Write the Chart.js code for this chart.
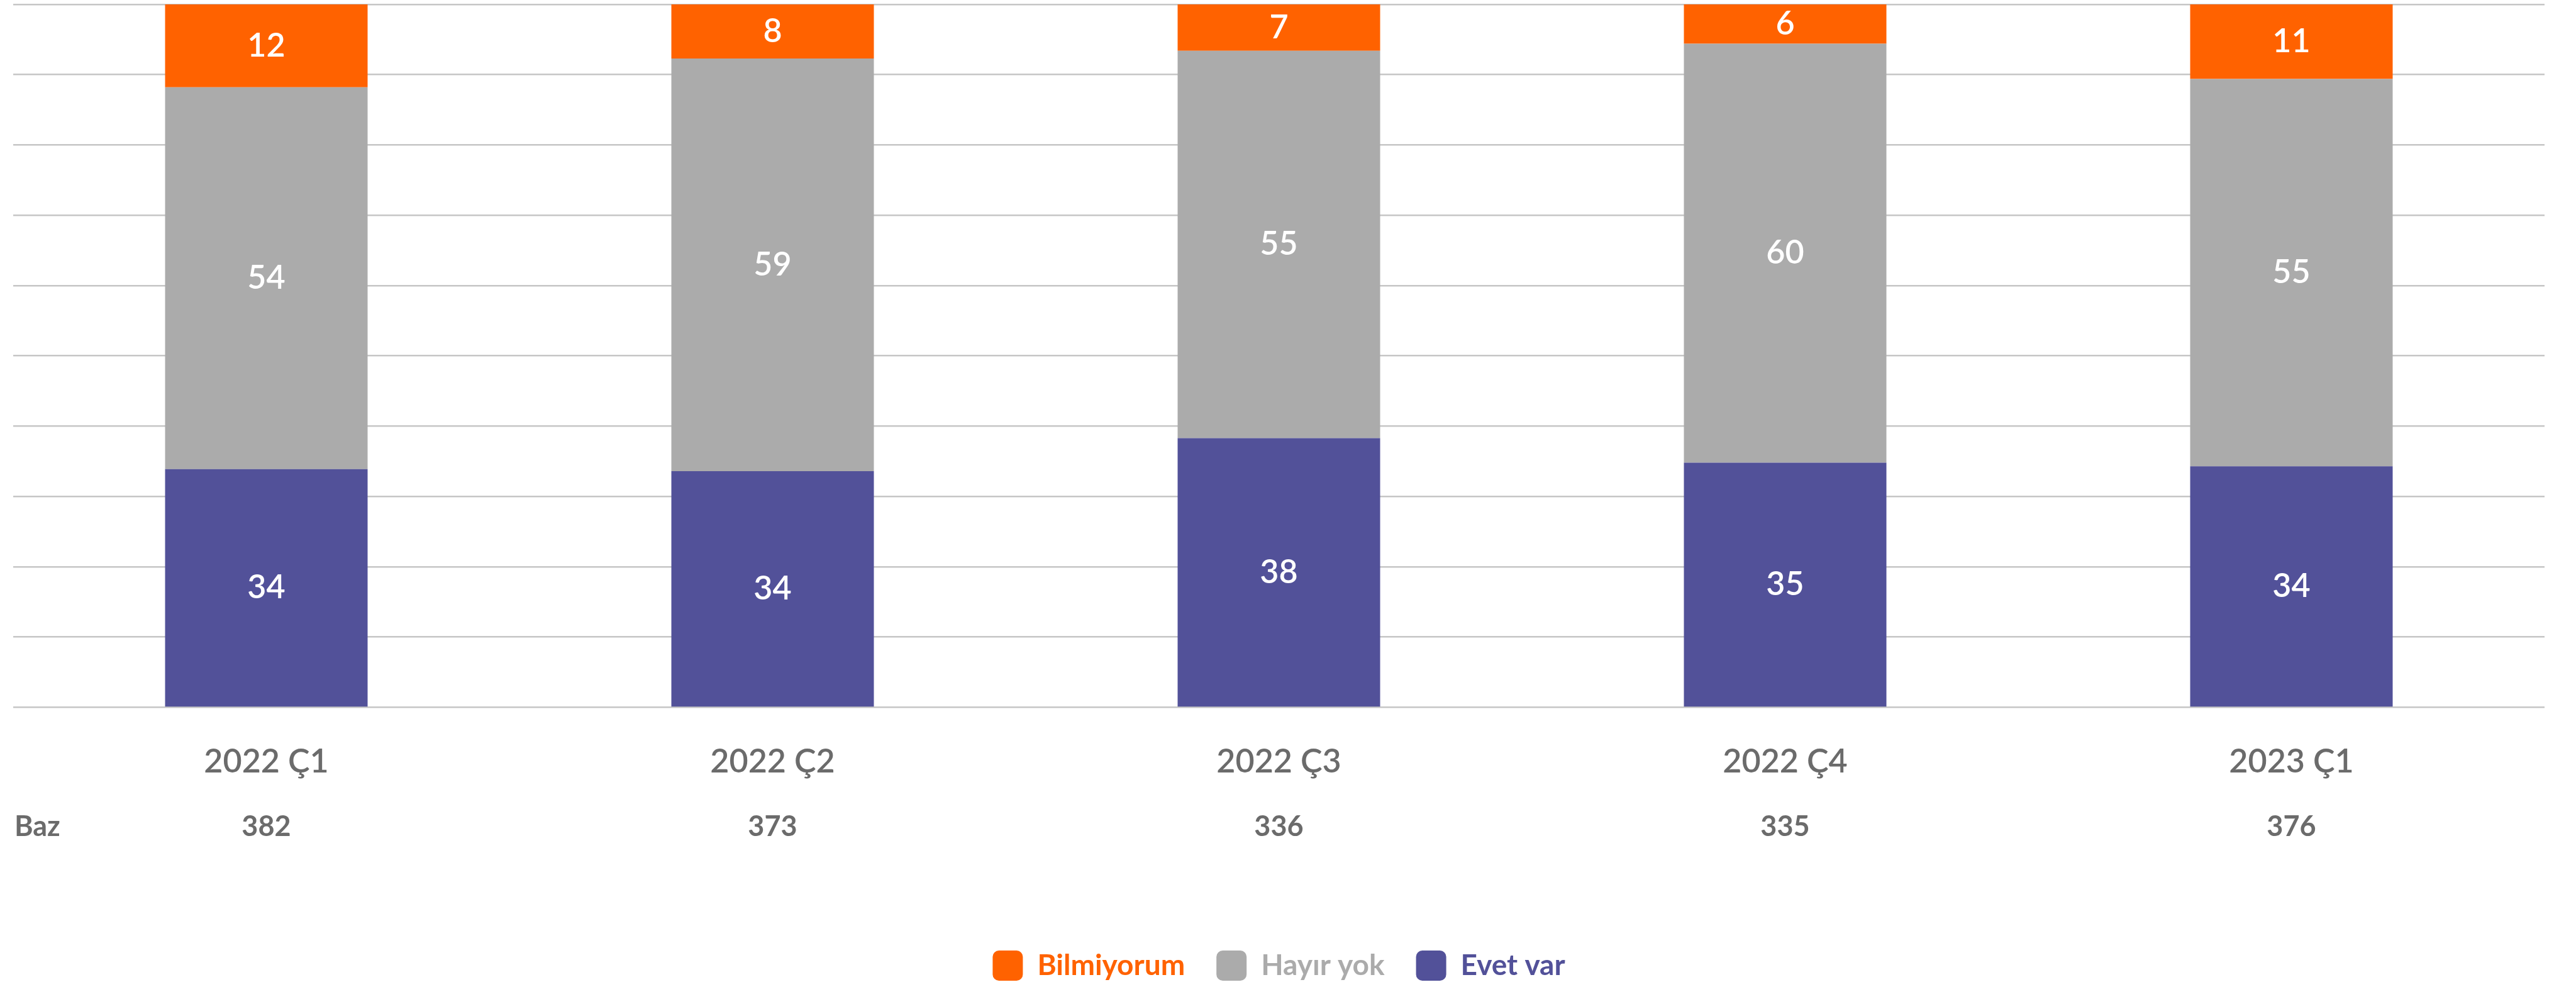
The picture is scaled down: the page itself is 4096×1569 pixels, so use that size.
<!DOCTYPE html>
<html>
<head>
<meta charset="utf-8">
<script src="https://cdn.jsdelivr.net/npm/chart.js@4.4.1/dist/chart.umd.min.js"></script>
<style>
  html, body { margin: 0; padding: 0; background: #ffffff; }
  #wrap { width: 4096px; height: 1569px; }
</style>
</head>
<body>
<div id="wrap"><canvas id="c" width="4096" height="1569"></canvas></div>
<script>
// ---- data ----
const categories = ["2022 Ç1", "2022 Ç2", "2022 Ç3", "2022 Ç4", "2023 Ç1"];
const bazValues = ["382", "373", "336", "335", "376"];
const evetVar = [33.9, 33.6, 38.3, 34.8, 34.3];
const hayirYok = [54.3, 58.7, 55.1, 59.6, 55.1];
const bilmiyorum = [11.8, 7.7, 6.6, 5.6, 10.6];
const seriesNames = ["Evet var", "Hayır yok", "Bilmiyorum"];
const bazLabel = "Baz";

// ---- style ----
const S = 0.896;
const FONT = "Lato, 'Open Sans', 'DejaVu Sans', sans-serif";
const C_ORANGE = "#FF6200";
const C_GRAY = "#ABABAB";
const C_BLUE = "#525199";
const C_TEXT = "#6B6B6B";
const BAZ_SIZE = Math.round(50 * S);
const BAZ_PAD = 27;

const barLabels = {
  id: "barLabels",
  afterDatasetsDraw(chart) {
    const ctx = chart.ctx;
    ctx.save();
    ctx.font = "600 " + Math.round(58 * S) + "px " + FONT;
    ctx.fillStyle = "#ffffff";
    ctx.textAlign = "center";
    ctx.textBaseline = "middle";
    chart.data.datasets.forEach((ds, di) => {
      const meta = chart.getDatasetMeta(di);
      meta.data.forEach((bar, i) => {
        const v = ds.data[i];
        const yTop = Math.max(bar.y, chart.chartArea.top);
        const cy = (yTop + bar.base) / 2;
        ctx.fillText(String(Math.round(v)), bar.x, cy);
      });
    });
    ctx.restore();
  }
};

const bazTitle = {
  id: "bazTitle",
  afterDraw(chart) {
    const x2 = chart.scales.x2;
    const ctx = chart.ctx;
    ctx.save();
    ctx.font = "bold " + BAZ_SIZE + "px " + FONT;
    ctx.fillStyle = C_TEXT;
    ctx.textAlign = "left";
    ctx.textBaseline = "middle";
    const y = x2.top + BAZ_PAD + BAZ_SIZE / 2;
    ctx.fillText(bazLabel, 23, y);
    ctx.restore();
  }
};

new Chart(document.getElementById("c"), {
  type: "bar",
  data: {
    labels: categories,
    datasets: [
      { label: seriesNames[0], data: evetVar, backgroundColor: C_BLUE, borderWidth: 0 },
      { label: seriesNames[1], data: hayirYok, backgroundColor: C_GRAY, borderWidth: 0 },
      { label: seriesNames[2], data: bilmiyorum, backgroundColor: C_ORANGE, borderWidth: 0 }
    ]
  },
  options: {
    responsive: false,
    devicePixelRatio: 1,
    animation: false,
    layout: { padding: { left: 21, right: 50, top: 7, bottom: 0 } },
    datasets: { bar: { categoryPercentage: 1.0, barPercentage: 0.4 } },
    scales: {
      x: {
        stacked: true,
        position: "bottom",
        weight: 0,
        grid: { display: false, drawTicks: false },
        border: { display: false },
        ticks: {
          color: C_TEXT,
          padding: 61,
          maxRotation: 0,
          autoSkip: false,
          font: { family: FONT, size: Math.round(58 * S), weight: "600", lineHeight: 1 }
        },
        afterFit(scale) { scale.height = 140; }
      },
      x2: {
        type: "category",
        labels: bazValues,
        position: "bottom",
        weight: 1,
        offset: true,
        grid: { display: false, drawTicks: false },
        border: { display: false },
        ticks: {
          color: C_TEXT,
          padding: BAZ_PAD,
          maxRotation: 0,
          autoSkip: false,
          font: { family: FONT, size: BAZ_SIZE, weight: "bold", lineHeight: 1 }
        },
        afterFit(scale) { scale.height = 196.5; }
      },
      y: {
        stacked: true,
        min: 0,
        max: 100,
        ticks: { display: false, stepSize: 10 },
        border: { display: false },
        grid: { color: "#C6C6C6", lineWidth: 2.6, drawTicks: false }
      }
    },
    plugins: {
      tooltip: { enabled: false },
      legend: {
        position: "bottom",
        align: "center",
        reverse: true,
        labels: {
          boxWidth: 48,
          boxHeight: 48,
          useBorderRadius: true,
          borderRadius: 10,
          padding: 50,
          font: { family: FONT, size: Math.round(51 * S), weight: "bold" },
          generateLabels(chart) {
            const items = Chart.defaults.plugins.legend.labels.generateLabels(chart);
            items.forEach(it => { it.fontColor = it.fillStyle; it.lineWidth = 0; it.strokeStyle = "rgba(0,0,0,0)"; });
            return items;
          }
        }
      }
    }
  },
  plugins: [barLabels, bazTitle]
});
</script>
</body>
</html>
